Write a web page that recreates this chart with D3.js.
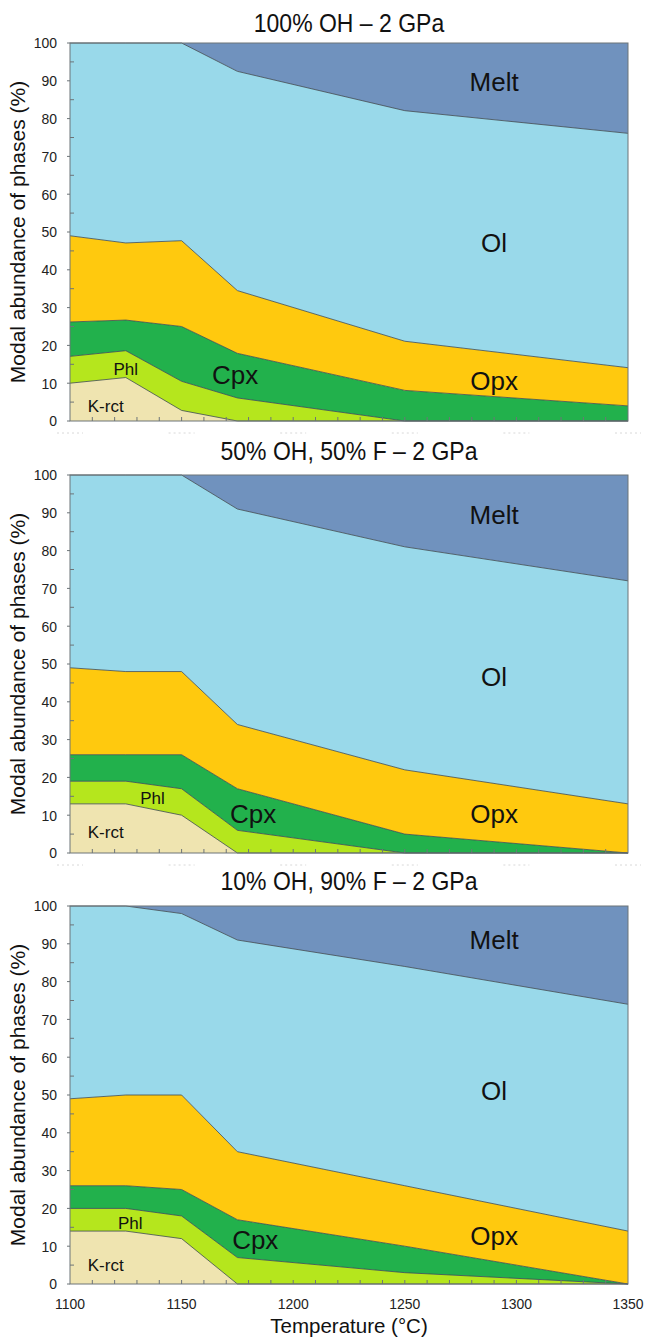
<!DOCTYPE html>
<html>
<head>
<meta charset="utf-8">
<script src="https://cdn.jsdelivr.net/npm/d3@7"></script>
<style>
  body { margin: 0; background: #fff; }
  text { font-family: "Liberation Sans", Arial, sans-serif; }
</style>
</head>
<body>
<div id="chart"></div>
<script>
// Temperatures (°C) of the experiments
const temps = [1100, 1125, 1150, 1175, 1250, 1350];
const phases = ["K-rct", "Phl", "Cpx", "Opx", "Ol", "Melt"];
const phaseColors = ["#efe4b0", "#b5e61d", "#22b14c", "#ffc90e", "#99d9ea", "#7092be"];
const panelTitles = ["100% OH \u2013 2 GPa", "50% OH, 50% F \u2013 2 GPa", "10% OH, 90% F \u2013 2 GPa"];
const yTicks = [0, 10, 20, 30, 40, 50, 60, 70, 80, 90, 100];
const xTicks = [1100, 1150, 1200, 1250, 1300, 1350];

// Modal abundance (%) of each phase, bottom to top
const oh100Krct = [10, 11.5, 2.8, 0, 0, 0];
const oh100Phl  = [7.1, 7.1, 7.7, 6.1, 0, 0];
const oh100Cpx  = [9.1, 8.1, 14.5, 11.8, 8.1, 4];
const oh100Opx  = [22.8, 20.4, 22.7, 16.6, 13, 10.1];
const oh100Ol   = [51, 52.9, 52.3, 58, 61, 62];
const oh100Melt = [0, 0, 0, 7.5, 17.9, 23.9];

const oh50Krct = [13, 13, 10, 0, 0, 0];
const oh50Phl  = [6, 6, 7, 6, 0, 0];
const oh50Cpx  = [7, 7, 9, 11, 5, 0];
const oh50Opx  = [23, 22, 22, 17, 17, 13];
const oh50Ol   = [51, 52, 52, 57, 59, 59];
const oh50Melt = [0, 0, 0, 9, 19, 28];

const oh10Krct = [14, 14, 12, 0, 0, 0];
const oh10Phl  = [6, 6, 6, 7, 3, 0];
const oh10Cpx  = [6, 6, 7, 10, 7, 0];
const oh10Opx  = [23, 24, 25, 18, 16, 14];
const oh10Ol   = [51, 50, 48, 56, 58, 60];
const oh10Melt = [0, 0, 2, 9, 16, 26];

// Label anchors in data units [temperature, %]
const labelSpots1 = [[1116, 4], [1125, 13.8], [1174, 12.2], [1290, 10.6], [1290, 47], [1290, 89.7]];
const labelSpots2 = [[1116, 5.6], [1137, 14.5], [1182, 10.3], [1290, 10.3], [1290, 46.6], [1290, 89.4]];
const labelSpots3 = [[1116, 5], [1127, 16], [1183, 11.6], [1290, 12.7], [1290, 51], [1290, 91]];

const panels = [
  { title: panelTitles[0], series: [oh100Krct, oh100Phl, oh100Cpx, oh100Opx, oh100Ol, oh100Melt], labels: labelSpots1, top: 43, titleGap: 11 },
  { title: panelTitles[1], series: [oh50Krct, oh50Phl, oh50Cpx, oh50Opx, oh50Ol, oh50Melt], labels: labelSpots2, top: 475, titleGap: 15 },
  { title: panelTitles[2], series: [oh10Krct, oh10Phl, oh10Cpx, oh10Opx, oh10Ol, oh10Melt], labels: labelSpots3, top: 906, titleGap: 16 }
];

const width = 648, height = 1337;
const plotLeft = 70, plotRight = 628, plotHeight = 378;

const svg = d3.select("#chart").append("svg")
    .attr("width", width)
    .attr("height", height);

const x = d3.scaleLinear().domain([1100, 1350]).range([plotLeft, plotRight]);

panels.forEach((panel, pi) => {
  const y = d3.scaleLinear().domain([0, 100]).range([panel.top + plotHeight, panel.top]);

  // build table for d3.stack
  const table = temps.map((t, i) => {
    const row = { t: t };
    phases.forEach((p, k) => { row[p] = panel.series[k][i]; });
    return row;
  });
  const stacked = d3.stack().keys(phases)(table);

  const g = svg.append("g");

  const area = d3.area()
      .x(d => x(d.data.t))
      .y0(d => y(d[0]))
      .y1(d => y(Math.min(d[1], 100)));

  g.selectAll("path.layer")
    .data(stacked)
    .join("path")
      .attr("class", "layer")
      .attr("fill", (d, i) => phaseColors[i])
      .attr("d", area);

  // boundary lines
  const line = d3.line()
      .x(d => x(d.data.t))
      .y(d => y(Math.min(d[1], 100)));

  g.selectAll("path.bound")
    .data(stacked.slice(0, 5))
    .join("path")
      .attr("class", "bound")
      .attr("fill", "none")
      .attr("stroke", "#3d4a4f")
      .attr("stroke-width", 0.8)
      .attr("d", line);

  // frame
  g.append("rect")
    .attr("x", plotLeft).attr("y", panel.top)
    .attr("width", plotRight - plotLeft).attr("height", plotHeight)
    .attr("fill", "none").attr("stroke", "#6d7478").attr("stroke-width", 1);

  // y ticks (minor inside, every 5)
  const yMinor = d3.range(5, 100, 10);
  g.selectAll("line.ym")
    .data(yMinor)
    .join("line")
      .attr("x1", plotLeft).attr("x2", plotLeft + 4)
      .attr("y1", d => y(d)).attr("y2", d => y(d))
      .attr("stroke", "#6d7478");

  g.selectAll("line.yM")
    .data(yTicks)
    .join("line")
      .attr("x1", plotLeft - 3).attr("x2", plotLeft)
      .attr("y1", d => y(d)).attr("y2", d => y(d))
      .attr("stroke", "#6d7478");

  g.selectAll("text.ytick")
    .data(yTicks)
    .join("text")
      .attr("class", "ytick")
      .attr("transform", d => `translate(${plotLeft - 13}, ${y(d)}) scale(0.9, 1)`)
      .attr("dy", "0.35em")
      .attr("text-anchor", "end")
      .attr("font-size", 15.5)
      .attr("fill", "#222")
      .text(d => d);

  // x ticks, inside, every 10 °C
  const xMinor = d3.range(1110, 1350, 10);
  g.selectAll("line.xm")
    .data(xMinor)
    .join("line")
      .attr("x1", d => x(d)).attr("x2", d => x(d))
      .attr("y1", y(0)).attr("y2", y(0) - 4)
      .attr("stroke", "#6d7478");

  if (pi === 2) {
    g.selectAll("text.xtick")
      .data(xTicks)
      .join("text")
        .attr("transform", d => `translate(${x(d)}, ${y(0) + 25}) scale(0.9, 1)`)
        .attr("text-anchor", "middle")
        .attr("font-size", 15.5)
        .attr("fill", "#222")
        .text(d => d);

    g.append("text")
      .attr("x", (plotLeft + plotRight) / 2)
      .attr("y", y(0) + 49)
      .attr("text-anchor", "middle")
      .attr("font-size", 20.5)
      .attr("fill", "#111")
      .text("Temperature (\u00b0C)");
  } else {
    // faint leftovers of hidden tick labels
    g.selectAll("line.ghost")
      .data(xTicks)
      .join("line")
        .attr("x1", d => x(d) - 13).attr("x2", d => x(d) + 13)
        .attr("y1", y(0) + 12).attr("y2", y(0) + 12)
        .attr("stroke", "#d8d8d8")
        .attr("stroke-width", 1)
        .attr("stroke-dasharray", "2,3");
  }

  // title
  g.append("text")
    .attr("transform", `translate(${(plotLeft + plotRight) / 2}, ${panel.top - panel.titleGap}) scale(0.92, 1)`)
    .attr("text-anchor", "middle")
    .attr("font-size", 25)
    .attr("fill", "#111")
    .text(panel.title);

  // y label
  g.append("text")
    .attr("transform", `translate(25, ${panel.top + plotHeight / 2}) rotate(-90)`)
    .attr("text-anchor", "middle")
    .attr("font-size", 21)
    .attr("fill", "#111")
    .text("Modal abundance of phases (%)");

  // phase labels
  g.selectAll("text.phase")
    .data(phases)
    .join("text")
      .attr("class", "phase")
      .attr("x", (d, i) => x(panel.labels[i][0]))
      .attr("y", (d, i) => y(panel.labels[i][1]))
      .attr("dy", "0.35em")
      .attr("text-anchor", "middle")
      .attr("font-size", (d, i) => i < 2 ? 17 : 26)
      .attr("fill", "#111")
      .text(d => d);
});
</script>
</body>
</html>
